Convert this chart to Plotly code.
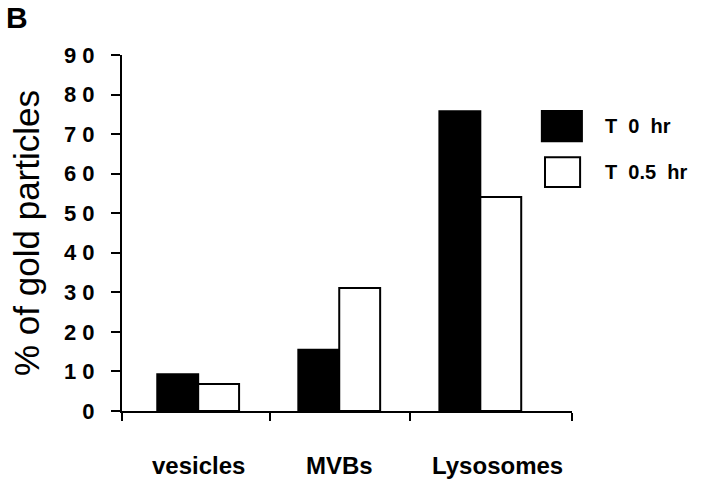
import plotly.graph_objects as go

categories = ['vesicles', 'MVBs', 'Lysosomes']
series_names = ['T\u00a0\u00a00\u00a0\u00a0hr', 'T\u00a0\u00a00.5\u00a0\u00a0hr']
t0_values = [9.3, 15.5, 75.8]
t05_values = [6.8, 31.1, 54.1]
y_ticks = [0, 10, 20, 30, 40, 50, 60, 70, 80, 90]
y_ticktext = ['0', '1 0', '2 0', '3 0', '4 0', '5 0', '6 0', '7 0', '8 0', '9 0']

FONT = 'Liberation Sans, Arial, sans-serif'
xpos = list(range(len(categories)))
x_range = [-0.54, 2.65]

fig = go.Figure()
fig.add_trace(go.Bar(x=xpos, y=t0_values, name=series_names[0],
                     marker=dict(color='black', line=dict(color='black', width=2))))
fig.add_trace(go.Bar(x=xpos, y=t05_values, name=series_names[1],
                     marker=dict(color='white', line=dict(color='black', width=2))))

# category labels sit under each group (last one drifts right, as in the original)
label_x = [0, 1, 2.12]
for cat, lx in zip(categories, label_x):
    fig.add_annotation(x=lx, xref='x', y=0, yref='paper', yshift=-54,
                       text=cat, showarrow=False, yanchor='middle',
                       font=dict(family=FONT, size=24, color='black', weight='bold'))

# hand-drawn style legend: big boxes on the right
boxes = [dict(fill='black', y0=0.758, y1=0.843, x0=0.933, x1=1.022),
         dict(fill='white', y0=0.629, y1=0.713, x0=0.940, x1=1.018)]
for name, b in zip(series_names, boxes):
    fig.add_shape(type='rect', xref='paper', yref='paper',
                  x0=b['x0'], x1=b['x1'], y0=b['y0'], y1=b['y1'],
                  fillcolor=b['fill'], line=dict(color='black', width=2))
    fig.add_annotation(x=1.069, y=(b['y0'] + b['y1']) / 2, xref='paper', yref='paper',
                       text=name, showarrow=False, xanchor='left', yanchor='middle',
                       font=dict(family=FONT, size=20, color='black', weight='bold'))

fig.add_annotation(x=-118 / 450, y=1 + 38 / 356, xref='paper', yref='paper',
                   text='B', showarrow=False, xanchor='left', yanchor='middle',
                   font=dict(family=FONT, size=30, color='black', weight='bold'))

fig.update_layout(
    width=720, height=487,
    margin=dict(l=122, r=148, t=55, b=76),
    paper_bgcolor='white', plot_bgcolor='white',
    barmode='group', bargap=0.42, bargroupgap=0,
    showlegend=False,
    xaxis=dict(range=x_range, tickvals=[-0.54, 0.51, 1.5, 2.65], ticktext=['', '', '', ''],
               ticks='outside', ticklen=8, tickwidth=2, tickcolor='black',
               showline=True, linecolor='black', linewidth=2, automargin=False,
               showgrid=False, zeroline=False),
    yaxis=dict(range=[0, 90], tickvals=y_ticks, ticktext=y_ticktext,
               ticks='outside', ticklen=9, tickwidth=2, tickcolor='black',
               ticklabelstandoff=12, automargin=False,
               showline=True, linecolor='black', linewidth=2,
               showgrid=False, zeroline=False,
               tickfont=dict(family=FONT, size=22, color='black', weight='bold'),
               title=dict(text='% of gold particles', standoff=14,
                          font=dict(family=FONT, size=35, color='black'))),
)

# drop the page's default body margin so the figure sits at the window's corner
fig.write_html('out.html', config={'displayModeBar': False},
               post_script="document.body.style.margin='0';")
